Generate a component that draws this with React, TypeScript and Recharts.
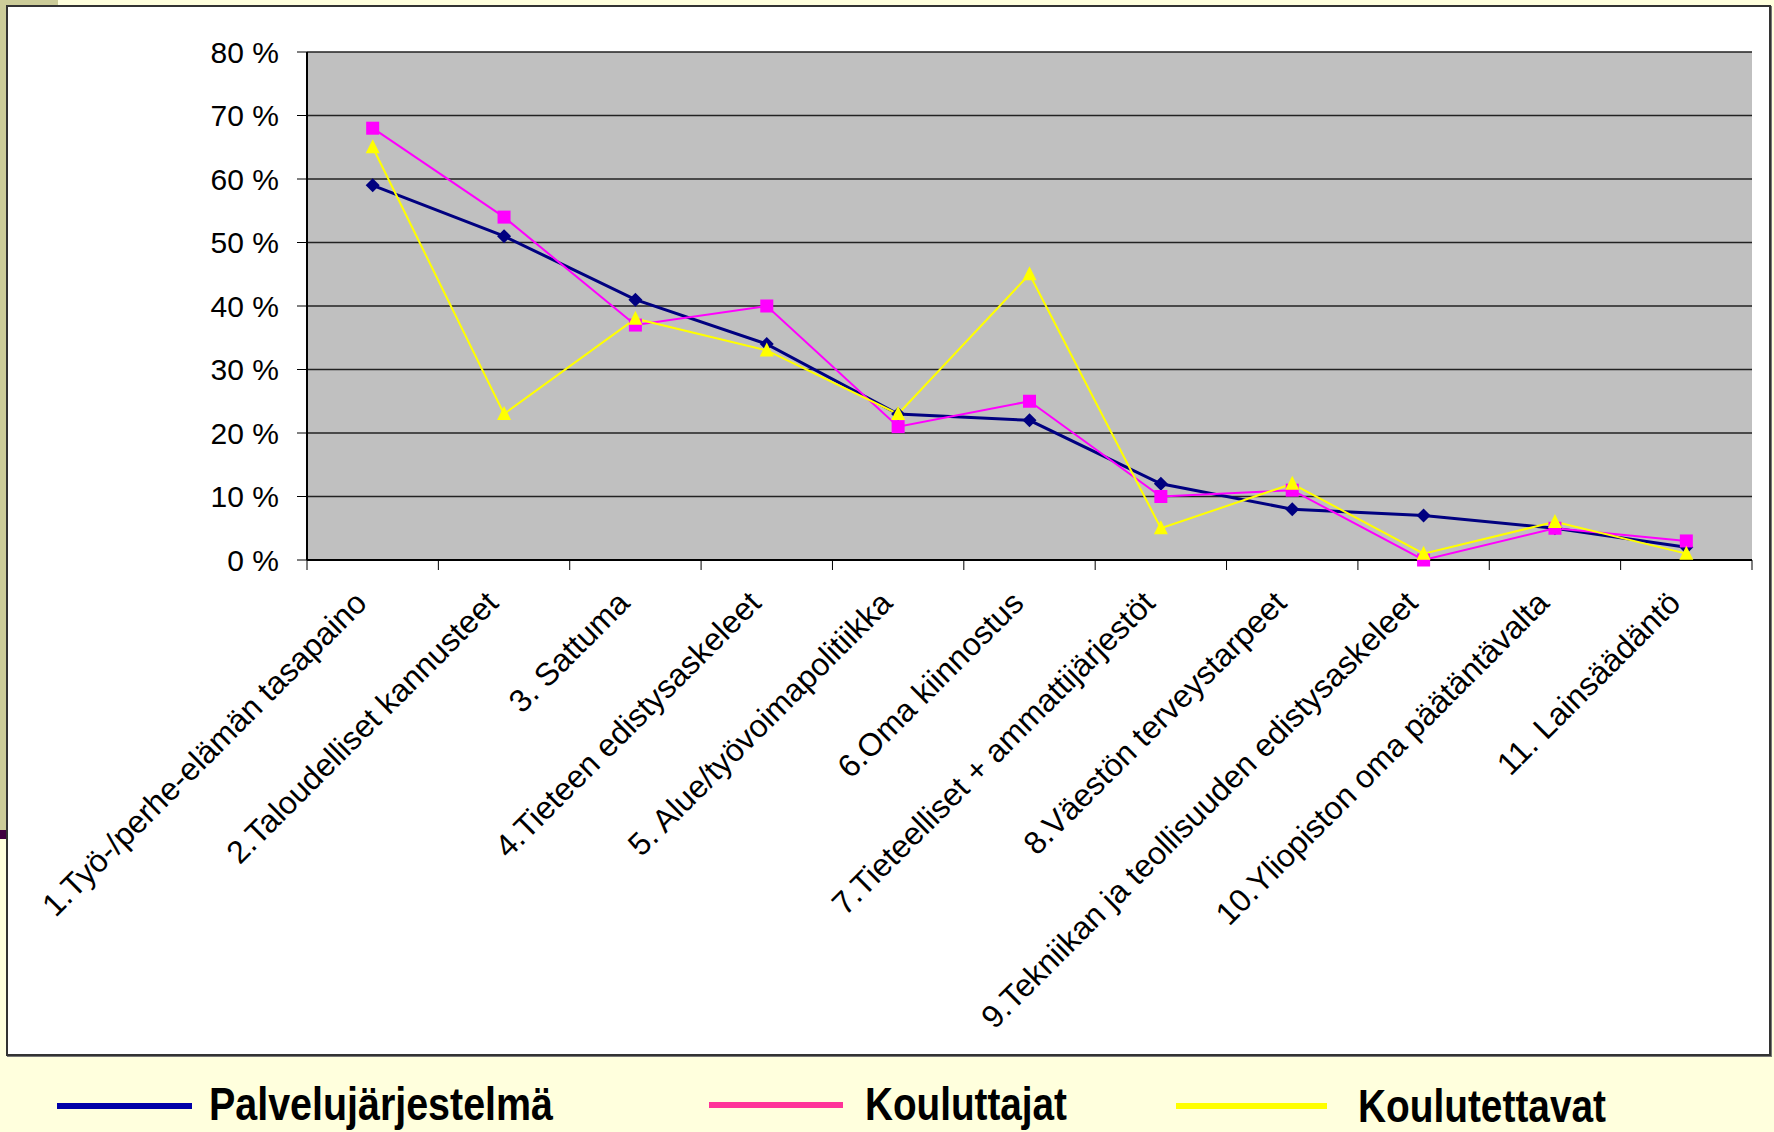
import React from "react";
import { CartesianGrid, Line, LineChart, XAxis, YAxis } from "recharts";

const categories = [
  "1.Työ-/perhe-elämän tasapaino",
  "2.Taloudelliset kannusteet",
  "3. Sattuma",
  "4.Tieteen edistysaskeleet",
  "5. Alue/työvoimapolitiikka",
  "6.Oma kiinnostus",
  "7.Tieteelliset + ammattijärjestöt",
  "8.Väestön terveystarpeet",
  "9.Tekniikan ja teollisuuden edistysaskeleet",
  "10.Yliopiston oma päätäntävalta",
  "11. Lainsäädäntö",
];

const palvelujarjestelma = [59, 51, 41, 34, 23, 22, 12, 8, 7, 5, 2];
const kouluttajat = [68, 54, 37, 40, 21, 25, 10, 11, 0, 5, 3];
const koulutettavat = [65, 23, 38, 33, 23, 45, 5, 12, 1, 6, 1];

const seriesNames = ["Palvelujärjestelmä", "Kouluttajat", "Koulutettavat"];
const yTicks = [0, 10, 20, 30, 40, 50, 60, 70, 80];

const data = categories.map((name, i) => ({
  name,
  palvelu: palvelujarjestelma[i],
  kouluttajat: kouluttajat[i],
  koulutettavat: koulutettavat[i],
}));

const FONT = "Arial, 'Liberation Sans', sans-serif";

function CategoryTick(props: any) {
  const { x, y, payload, index } = props;
  const half = payload?.offset ?? 0;
  return (
    <g>
      <line x1={x - half} x2={x - half} y1={y} y2={y + 10} stroke="#000" strokeWidth={1} />
      {index === categories.length - 1 && (
        <line x1={x + half} x2={x + half} y1={y} y2={y + 10} stroke="#000" strokeWidth={1} />
      )}
      <text
        transform={`translate(${x - 4}, ${y + 45}) rotate(-45)`}
        textAnchor="end"
        fontSize={32}
        fontFamily={FONT}
        fill="#000"
      >
        {payload.value}
      </text>
    </g>
  );
}

function Diamond(props: any) {
  const { cx, cy, index } = props;
  if (cx == null || cy == null) return <g key={`d-${index}`} />;
  return (
    <path
      key={`d-${index}`}
      d={`M${cx},${cy - 7} L${cx + 7},${cy} L${cx},${cy + 7} L${cx - 7},${cy} Z`}
      fill="#000080"
    />
  );
}

function Square(props: any) {
  const { cx, cy, index } = props;
  if (cx == null || cy == null) return <g key={`s-${index}`} />;
  return <rect key={`s-${index}`} x={cx - 6.5} y={cy - 6.5} width={13} height={13} fill="#FF00FF" />;
}

function Triangle(props: any) {
  const { cx, cy, index } = props;
  if (cx == null || cy == null) return <g key={`t-${index}`} />;
  return (
    <path
      key={`t-${index}`}
      d={`M${cx},${cy - 8} L${cx + 7},${cy + 6} L${cx - 7},${cy + 6} Z`}
      fill="#FFFF00"
    />
  );
}

function LegendRow() {
  // bottom legend, drawn in the cream area below the chart panel
  const items = [
    { color: "#0000A8", x1: 57, x2: 192, ly: 46, tx: 209, tw: 344, ty: 60 },
    { color: "#FF3399", x1: 709, x2: 843, ly: 45, tx: 865, tw: 202, ty: 60 },
    { color: "#FFFF00", x1: 1176, x2: 1327, ly: 46, tx: 1358, tw: 248, ty: 62 },
  ];
  return (
    <svg width={1774} height={72} style={{ position: "absolute", left: 0, top: 1060, overflow: "visible" }}>
      {items.map((it, i) => (
        <g key={i}>
          <line x1={it.x1} x2={it.x2} y1={it.ly} y2={it.ly} stroke={it.color} strokeWidth={6} />
          <text
            x={it.tx}
            y={it.ty}
            fontSize={47}
            fontWeight="bold"
            fontFamily={FONT}
            fill="#000"
            textLength={it.tw}
            lengthAdjust="spacingAndGlyphs"
          >
            {seriesNames[i]}
          </text>
        </g>
      ))}
    </svg>
  );
}

export default function App() {
  return (
    <div
      style={{
        position: "absolute",
        left: 0,
        top: 0,
        width: 1774,
        height: 1132,
        background: "#FFFFDD",
        overflow: "hidden",
      }}
    >
      {/* olive strips, top-left */}
      <div style={{ position: "absolute", left: 0, top: 0, width: 58, height: 6, background: "#CCCC99" }} />
      <div style={{ position: "absolute", left: 0, top: 0, width: 7, height: 830, background: "#CCCC99" }} />
      <div style={{ position: "absolute", left: 0, top: 830, width: 7, height: 9, background: "#400040" }} />

      {/* white chart panel */}
      <div
        style={{
          position: "absolute",
          left: 6,
          top: 5,
          width: 1765,
          height: 1051,
          background: "#FFFFFF",
          border: "2px solid #333",
          boxSizing: "border-box",
          boxShadow: "1px 1px 0 #777",
        }}
      />

      <div style={{ position: "absolute", left: 0, top: 0 }}>
        <LineChart
          width={1774}
          height={1132}
          data={data}
          margin={{ top: 52, right: 22, bottom: 172, left: 0 }}
        >
          <CartesianGrid
            xAxisId="cat"
            vertical={false}
            fill="#C0C0C0"
            fillOpacity={1}
            stroke="#222"
            strokeWidth={1.5}
          />
          <XAxis
            xAxisId="top"
            orientation="top"
            dataKey="name"
            scale="band"
            height={0}
            tick={false}
            tickLine={false}
            axisLine={{ stroke: "#808080", strokeWidth: 2 }}
          />
          <XAxis
            xAxisId="cat"
            dataKey="name"
            scale="band"
            interval={0}
            height={400}
            tickSize={0}
            tickMargin={0}
            tickLine={false}
            axisLine={{ stroke: "#000", strokeWidth: 2 }}
            tick={<CategoryTick />}
          />
          <YAxis
            domain={[0, 80]}
            ticks={yTicks}
            width={307}
            tickSize={10}
            tickMargin={18}
            tickLine={{ stroke: "#000" }}
            axisLine={{ stroke: "#000", strokeWidth: 2 }}
            tickFormatter={(v: number) => `${v} %`}
            tick={{ fill: "#000", fontSize: 30, fontFamily: FONT }}
          />
          <YAxis
            yAxisId="right"
            orientation="right"
            domain={[0, 80]}
            width={0}
            tick={false}
            tickLine={false}
            axisLine={{ stroke: "#808080", strokeWidth: 2 }}
          />
          <Line
            xAxisId="cat"
            dataKey="palvelu"
            name={seriesNames[0]}
            stroke="#000080"
            strokeWidth={3}
            dot={Diamond}
            activeDot={false}
            isAnimationActive={false}
          />
          <Line
            xAxisId="cat"
            dataKey="kouluttajat"
            name={seriesNames[1]}
            stroke="#FF00FF"
            strokeWidth={2}
            dot={Square}
            activeDot={false}
            isAnimationActive={false}
          />
          <Line
            xAxisId="cat"
            dataKey="koulutettavat"
            name={seriesNames[2]}
            stroke="#FFFF00"
            strokeWidth={2}
            dot={Triangle}
            activeDot={false}
            isAnimationActive={false}
          />
        </LineChart>
      </div>

      <LegendRow />
    </div>
  );
}
